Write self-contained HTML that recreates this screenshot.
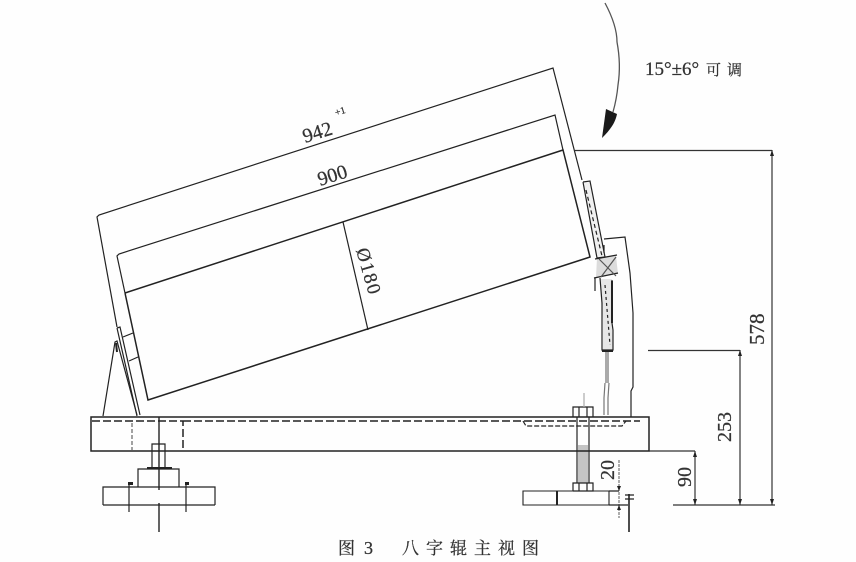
<!DOCTYPE html>
<html><head><meta charset="utf-8"><style>
html,body{margin:0;padding:0;background:#fefefe}
svg{display:block}
#d{filter:blur(.35px)}
text{font-family:"Liberation Serif","Noto Serif CJK SC",serif;fill:#333;stroke:#333;stroke-width:.25}
</style></head><body>
<svg width="856" height="562" viewBox="0 0 856 562" xmlns="http://www.w3.org/2000/svg">
<rect width="856" height="562" fill="#fefefe"/>
<g id="d">
<!-- shaded wash on the right linkage -->
<path d="M597 258L616 256L618 274L596 277Z" fill="#dcdcdc"/>
<path d="M600 279H612V323L613 350H603V320L601 300Z" fill="#e6e6e6"/>
<path d="M584 183L590 182L604 257L597 257Z" fill="#f0f0f0"/>
<rect x="578" y="445" width="10" height="38" fill="#c4c4c4"/>
<rect x="605" y="351" width="4" height="32" fill="#aaa"/>
<g fill="none" stroke="#222" stroke-width="1.2">
<!-- dimension frames -->
<path d="M117 327L97 217L99 215L553 68L582 180"/>
<path d="M125 293L117 256L119 254L555 115L563 150"/>
<!-- roller -->
<path d="M125 293L563 150L590 257L587 258L148 400L125 293" stroke-width="1.5"/>
<path d="M343 222L368 330"/>
<!-- left bracket -->
<path d="M117 328L120 327L140 415M117 328L137 416"/>
<path d="M123 337L133 333M129 361L138 357"/>
<path d="M103 416L115 342L117 341L137 415"/>
<path d="M116 343L117 352" stroke-width="2"/>
<!-- base -->
<path d="M91 417H649V451H91Z" stroke-width="1.5"/>
<path d="M92 421H183V450M183 421H640" stroke-dasharray="8 3" stroke-width="1.5"/>
<path d="M132 423V450" stroke-dasharray="4 2" stroke="#666"/>
<path d="M523 421L526 426H622L626 421" stroke-dasharray="5 2"/>
<path d="M159 417V490" stroke-width="1.4"/>
<!-- left foot -->
<path d="M152 468V444H165V468"/>
<path d="M138 487V469H179V487"/>
<path d="M103 505V487H215V505M103 505H215"/>
<path d="M129 485V512M186 485V512"/>
<path d="M159 503V532" stroke-width="1.4"/>
<path d="M147 468H172" stroke-width="2"/>
<path d="M128 483.500H133M185 483.500H189" stroke-width="3"/>
<!-- right hinge plate -->
<path d="M583 182L590 181L605 257L597 258L583 182"/>
<path d="M586 190L602 256" stroke-dasharray="4 3"/>
<path d="M604 239L625 237L630 273L633 313V387L631 391V417"/>
<path d="M595 259L617 255M594 278L618 273M595 278V291M604 245V253"/>
<path d="M599 259L616 276M616 257L601 277" stroke="#555"/>
<path d="M600 278L602 303V350H613V330L612 323V280"/>
<path d="M605 285L610 345" stroke-dasharray="3 3"/>
<path d="M612 281V323" stroke-width="2"/>
<path d="M602 351H613" stroke-width="2"/>
<path d="M605 383L604 398V415M609 383L608 398V415" stroke="#777"/>
<!-- right bolt -->
<path d="M573 417V407H593V417M579 407V417M587 407V417"/>
<path d="M584 393V407" stroke="#aaa"/>
<path d="M577 417V483M589 417V483"/>
<path d="M573 491V483H593V491H573M579 483V491M587 483V491"/>
<path d="M523 491H609V505H523Z" stroke-width="1.1"/>
<path d="M557 491V505" stroke-width="2"/>
<!-- dims -->
<path d="M575 150.500H772M648 350.500H740M649 451H695M673 505H775" stroke="#333"/>
<path d="M772 150V505M740 350V505M695 451V505" stroke="#333"/>
<path d="M619 460V518" stroke="#777" stroke-dasharray="3 1"/>
<path d="M609 491H619M609 505H628"/>
<path d="M629 494V532" stroke-width="1.6"/>
<path d="M625 495H634M625 499H634"/>
<!-- curve arrow -->
<path d="M605 3C613 18 617 30 617 42C620 58 620 72 618 85C617 96 615 105 613 112" stroke="#555" stroke-width="1.3"/>
</g>
<path d="M606 109L617 114C615 124 609 131 602 138Z" fill="#1a1a1a"/>
<path d="M772 150l-2 6h4zM772 505l-2-6h4zM740 350l-2 6h4zM740 505l-2-6h4zM695 451l-2 6h4zM695 505l-2-6h4zM619 491l-2-5h4zM619 505l-2 5h4z" fill="#222"/>
<text x="645" y="75" font-size="19">15°±6°</text>
<text x="706" y="75" font-size="15" letter-spacing="6">可调</text>
<text transform="translate(305 143) rotate(-17.500)" font-size="20">942</text>
<text transform="translate(336 116) rotate(-17.500)" font-size="10">+1</text>
<text transform="translate(320 186) rotate(-17.500)" font-size="20">900</text>
<text transform="translate(356 250) rotate(74)" font-size="19" textLength="47">Ø180</text>
<text transform="translate(764 345) rotate(-90)" font-size="21">578</text>
<text transform="translate(731 442) rotate(-90)" font-size="20">253</text>
<text transform="translate(691 487) rotate(-90)" font-size="20">90</text>
<text transform="translate(614 480) rotate(-90)" font-size="20">20</text>
<text x="338" y="554" font-size="17">图</text>
<text x="364" y="554" font-size="18">3</text>
<text x="402" y="554" font-size="17" letter-spacing="7">八字辊主视图</text>
</g>
</svg>
</body></html>
